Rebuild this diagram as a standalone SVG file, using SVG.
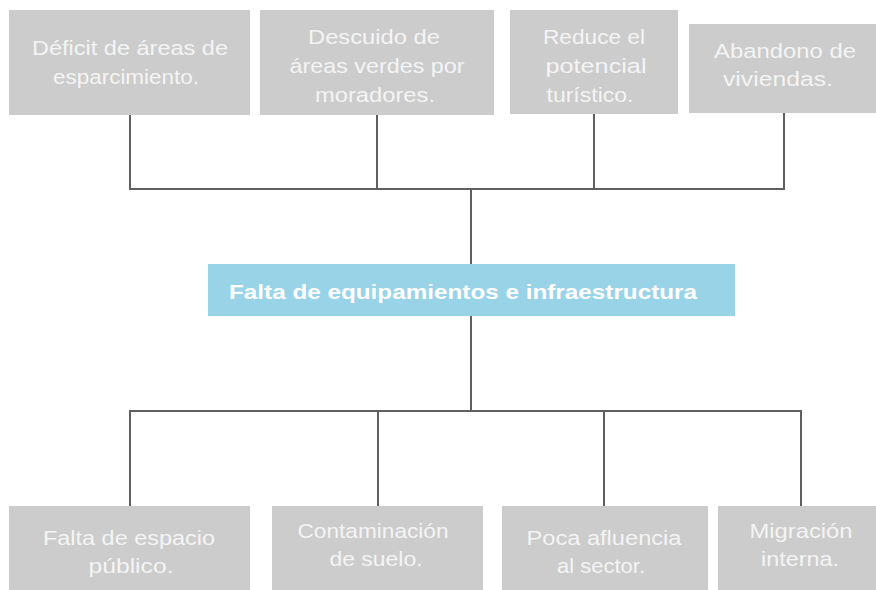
<svg xmlns="http://www.w3.org/2000/svg" width="876" height="590" viewBox="0 0 876 590">
<style>
.box{fill:#cccccc}
.t{font-family:"Liberation Sans",Arial,sans-serif;font-size:20.5px;fill:#f4f4f4;text-anchor:middle}
.title{font-family:"Liberation Sans",Arial,sans-serif;font-size:21px;font-weight:bold;fill:#ffffff}
.c{stroke:#5f5f5f;stroke-width:2;fill:none}
</style>
<rect width="876" height="590" fill="#ffffff"/>
<g id="connectors">
<path class="c" d="M130 115V189H784V113"/>
<path class="c" d="M377 115V189"/>
<path class="c" d="M594 114V189"/>
<path class="c" d="M471 189V264"/>
<path class="c" d="M471 316V411"/>
<path class="c" d="M130 506V411H801V506"/>
<path class="c" d="M378 506V411"/>
<path class="c" d="M604 506V411"/>
</g>
<g id="n1">
<rect class="box" x="9" y="10" width="241" height="105"/>
<text class="t" x="130" y="55" textLength="196" lengthAdjust="spacingAndGlyphs">Déficit de áreas de</text>
<text class="t" x="126" y="84" textLength="146" lengthAdjust="spacingAndGlyphs">esparcimiento.</text>
</g>
<g id="n2">
<rect class="box" x="260" y="10" width="234" height="105"/>
<text class="t" x="374" y="44" textLength="132" lengthAdjust="spacingAndGlyphs">Descuido de</text>
<text class="t" x="377" y="73" textLength="175" lengthAdjust="spacingAndGlyphs">áreas verdes por</text>
<text class="t" x="375" y="102" textLength="120" lengthAdjust="spacingAndGlyphs">moradores.</text>
</g>
<g id="n3">
<rect class="box" x="510" y="10" width="168" height="104"/>
<text class="t" x="594" y="44" textLength="102" lengthAdjust="spacingAndGlyphs">Reduce el</text>
<text class="t" x="596" y="73" textLength="101" lengthAdjust="spacingAndGlyphs">potencial</text>
<text class="t" x="590" y="102" textLength="87" lengthAdjust="spacingAndGlyphs">turístico.</text>
</g>
<g id="n4">
<rect class="box" x="689" y="24" width="187" height="89"/>
<text class="t" x="785" y="58" textLength="142" lengthAdjust="spacingAndGlyphs">Abandono de</text>
<text class="t" x="778" y="86" textLength="110" lengthAdjust="spacingAndGlyphs">viviendas.</text>
</g>
<g id="center">
<rect x="208" y="264" width="527" height="52" fill="#99d3e8"/>
<text class="title" x="229" y="299" textLength="468" lengthAdjust="spacingAndGlyphs">Falta de equipamientos e infraestructura</text>
</g>
<g id="b1">
<rect class="box" x="9" y="506" width="241" height="84"/>
<text class="t" x="129" y="545" textLength="172" lengthAdjust="spacingAndGlyphs">Falta de espacio</text>
<text class="t" x="131" y="573" textLength="85" lengthAdjust="spacingAndGlyphs">público.</text>
</g>
<g id="b2">
<rect class="box" x="272" y="506" width="211" height="84"/>
<text class="t" x="373" y="538" textLength="151" lengthAdjust="spacingAndGlyphs">Contaminación</text>
<text class="t" x="376" y="566" textLength="93" lengthAdjust="spacingAndGlyphs">de suelo.</text>
</g>
<g id="b3">
<rect class="box" x="502" y="506" width="206" height="84"/>
<text class="t" x="604" y="545" textLength="155" lengthAdjust="spacingAndGlyphs">Poca afluencia</text>
<text class="t" x="601" y="573" textLength="88" lengthAdjust="spacingAndGlyphs">al sector.</text>
</g>
<g id="b4">
<rect class="box" x="718" y="506" width="158" height="84"/>
<text class="t" x="801" y="538" textLength="103" lengthAdjust="spacingAndGlyphs">Migración</text>
<text class="t" x="800" y="566" textLength="78" lengthAdjust="spacingAndGlyphs">interna.</text>
</g>
</svg>
